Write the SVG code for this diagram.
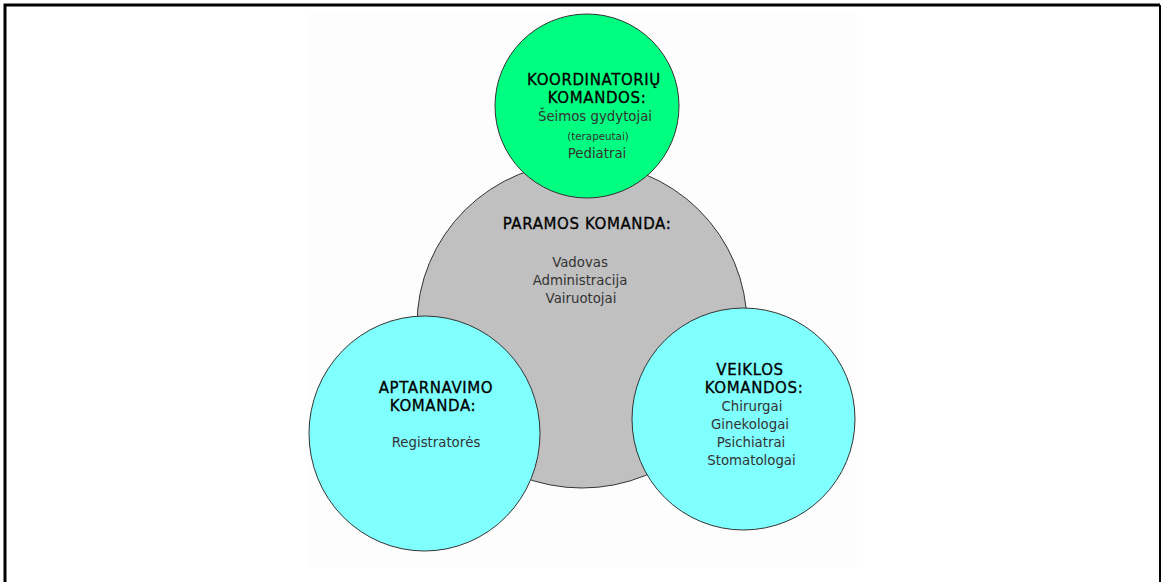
<svg xmlns="http://www.w3.org/2000/svg" width="1162" height="582" viewBox="0 0 1162 582">
<style>
.node{stroke:#333;stroke-width:1}
.t{font-family:"DejaVu Sans","Liberation Sans",sans-serif;text-anchor:middle;font-size:15px;fill:#000;stroke:#000;stroke-width:0.3;letter-spacing:0.6px}
.b{font-family:"DejaVu Sans","Liberation Sans",sans-serif;text-anchor:middle;font-size:13.3px;fill:#333}
.s{font-size:10.3px}
</style>
<rect x="0" y="0" width="1162" height="582" fill="#ffffff"/>
<rect x="307" y="14" width="550" height="554" fill="#fdfdfd"/>
<path d="M5,582 V5 H1160" fill="none" stroke="#000" stroke-width="3"/>
<line x1="1160" y1="5" x2="1160" y2="582" stroke="#000" stroke-width="2"/>
<g id="connectors"></g>
<g id="paramos">
<ellipse class="node" cx="582" cy="325" rx="165" ry="163" fill="#c0c0c0"/>
<text class="t" x="587" y="229">PARAMOS KOMANDA:</text>
<text class="b" x="580" y="267">Vadovas</text>
<text class="b" x="580" y="285">Administracija</text>
<text class="b" x="581" y="303">Vairuotojai</text>
</g>
<g id="koordinatoriu">
<circle class="node" cx="587" cy="106" r="92" fill="#00ff80"/>
<text class="t" x="594" y="85">KOORDINATORIŲ</text>
<text class="t" x="597" y="103">KOMANDOS:</text>
<text class="b" x="595" y="121">Šeimos gydytojai</text>
<text class="b s" x="598" y="140">(terapeutai)</text>
<text class="b" x="597" y="158">Pediatrai</text>
</g>
<g id="aptarnavimo">
<ellipse class="node" cx="424.5" cy="433.5" rx="115.5" ry="117.5" fill="#80ffff"/>
<text class="t" x="436" y="393">APTARNAVIMO</text>
<text class="t" x="433" y="411">KOMANDA:</text>
<text class="b" x="436" y="447">Registratorės</text>
</g>
<g id="veiklos">
<ellipse class="node" cx="743.5" cy="419" rx="111.5" ry="111" fill="#80ffff"/>
<text class="t" x="750" y="375">VEIKLOS</text>
<text class="t" x="754" y="393">KOMANDOS:</text>
<text class="b" x="752" y="411">Chirurgai</text>
<text class="b" x="750" y="429">Ginekologai</text>
<text class="b" x="751" y="447">Psichiatrai</text>
<text class="b" x="751.5" y="465">Stomatologai</text>
</g>
</svg>
